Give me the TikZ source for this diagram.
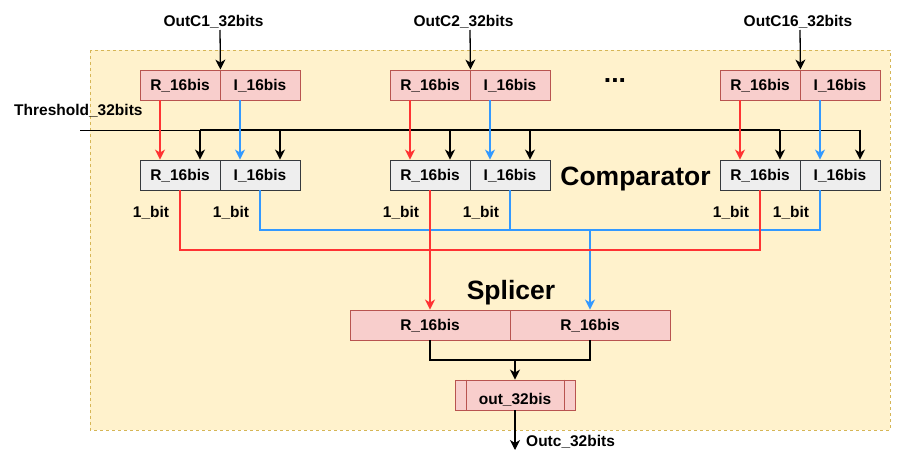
\documentclass[tikz,border=0pt]{standalone}
\usepackage{fontspec}
\setmainfont{Liberation Sans}
\usetikzlibrary{arrows.meta,calc}
\definecolor{bgfill}{HTML}{FFF2CC}
\definecolor{bgline}{HTML}{D6B656}
\definecolor{pinkfill}{HTML}{F8CECC}
\definecolor{pinkline}{HTML}{B85450}
\definecolor{grayfill}{HTML}{EEEEEE}
\definecolor{grayline}{HTML}{36393D}
\definecolor{wred}{HTML}{FF3333}
\definecolor{wblue}{HTML}{3399FF}
\begin{document}
\begin{tikzpicture}[x=1pt,y=-1pt,
  lab/.style={font=\bfseries\fontsize{15.5}{18}\selectfont, inner sep=0pt, text height=11.1pt, text depth=0pt},
  biglab/.style={font=\bfseries\fontsize{26.5}{30}\selectfont, inner sep=0pt, text height=19pt, text depth=0pt},
  pinkbox/.style={lab, draw=pinkline, fill=pinkfill, line width=0.9pt, minimum width=80pt, minimum height=30pt},
  graybox/.style={lab, draw=grayline, fill=grayfill, line width=0.9pt, minimum width=80pt, minimum height=30pt},
  arr/.style={-{Stealth[length=10pt,width=10pt,inset=3pt]}, line width=1.3pt, line join=miter},
  wire/.style={line width=1.3pt, line join=miter},
]
\useasboundingbox (0,0) rectangle (922,461);
% background container
\path[fill=bgfill, draw=bgline, dashed, line width=0.8pt] (90,50) rectangle (890,430);

% top boxes
\node[pinkbox] (t1r) at (180,85) {R\_16bis};
\node[pinkbox] (t1i) at (260,85) {I\_16bis};
\node[pinkbox] (t2r) at (430,85) {R\_16bis};
\node[pinkbox] (t2i) at (510,85) {I\_16bis};
\node[pinkbox] (t3r) at (760,85) {R\_16bis};
\node[pinkbox] (t3i) at (840,85) {I\_16bis};

% comparator boxes
\node[graybox] (c1r) at (180,175) {R\_16bis};
\node[graybox] (c1i) at (260,175) {I\_16bis};
\node[graybox] (c2r) at (430,175) {R\_16bis};
\node[graybox] (c2i) at (510,175) {I\_16bis};
\node[graybox] (c3r) at (760,175) {R\_16bis};
\node[graybox] (c3i) at (840,175) {I\_16bis};

% splicer boxes
\node[pinkbox, minimum width=160pt] (sr) at (430,325) {R\_16bis};
\node[pinkbox, minimum width=160pt] (si) at (590,325) {R\_16bis};

% output box
\node[draw=pinkline, fill=pinkfill, line width=0.9pt, minimum width=120pt, minimum height=30pt, inner sep=0pt] (outbox) at (515,395) {};
\draw[pinkline, line width=0.9pt] ($(outbox.north west)+(12,0)$) -- ($(outbox.south west)+(12,0)$);
\draw[pinkline, line width=0.9pt] ($(outbox.north east)+(-11,0)$) -- ($(outbox.south east)+(-11,0)$);
\node[lab] (outtext) at (515,398.5) {out\_32bis};

% labels
\node[lab] (lo1) at (213.5,20.5) {OutC1\_32bits};
\node[lab] (lo2) at (463.5,20.5) {OutC2\_32bits};
\node[lab] (lo16) at (798,20.5) {OutC16\_32bits};
\node[lab, anchor=west] (lth) at (14,110) {Threshold\_32bits};
\node[biglab, anchor=base] (dots) at (615,82) {...};
\node[biglab] (lcomp) at (635.5,176) {Comparator};
\node[biglab] (lspl) at (511,290) {Splicer};
\node[lab] (b1) at (151,211.5) {1\_bit};
\node[lab] (b2) at (231,211.5) {1\_bit};
\node[lab] (b3) at (401,211.5) {1\_bit};
\node[lab] (b4) at (481,211.5) {1\_bit};
\node[lab] (b5) at (731,211.5) {1\_bit};
\node[lab] (b6) at (791,211.5) {1\_bit};
\node[lab, anchor=west] (lout) at (526,441) {Outc\_32bits};

% input arrows
\coordinate (in1) at (220,30);
\coordinate (in2) at (470,30);
\coordinate (in16) at (800,30);
\draw[arr] (in1) -- (t1r.north east);
\draw[arr] (in2) -- (t2r.north east);
\draw[arr] (in16) -- (t3r.north east);

% threshold bus
\coordinate (thL) at (80,130);
\coordinate (thA) at (200,130);
\coordinate (thB) at (780,130);
\coordinate (thR) at (860,130);
\draw[line width=1pt] (thL) -- (thR);
\draw[line width=2pt] (thA) -- (thB);
\foreach \n in {c1r,c1i,c2r,c2i,c3r,c3i}{
  \draw[arr] ($(\n.north)+(20,-30)$) -- ($(\n.north)+(20,0)$);
}

% real / imag feeds
\draw[arr, wred] ($(t1r.south)+(-20,0)$) -- ($(c1r.north)+(-20,0)$);
\draw[arr, wblue] ($(t1i.south)+(-20,0)$) -- ($(c1i.north)+(-20,0)$);
\draw[arr, wred] ($(t2r.south)+(-20,0)$) -- ($(c2r.north)+(-20,0)$);
\draw[arr, wblue] ($(t2i.south)+(-20,0)$) -- ($(c2i.north)+(-20,0)$);
\draw[arr, wred] ($(t3r.south)+(-20,0)$) -- ($(c3r.north)+(-20,0)$);
\draw[arr, wblue] ($(t3i.south)+(-20,0)$) -- ($(c3i.north)+(-20,0)$);

% comparator outputs to splicer
\coordinate (bj) at (590,230);
\coordinate (rj) at (430,250);
\draw[wire, wblue] (c1i.south) |- (bj);
\draw[wire, wblue] (c2i.south) |- (bj);
\draw[wire, wblue] ($(c3i.south)+(-20,0)$) |- (bj);
\draw[arr, wblue, line width=1.8pt] (bj) -- (si.north);
\draw[wire, wred] (c1r.south) |- (rj);
\draw[wire, wred] (c3r.south) |- (rj);
\draw[arr, wred, line width=1.8pt] (c2r.south) -- (sr.north);

% splicer to output
\coordinate (oj) at (515,360);
\draw[wire] (sr.south) |- (oj);
\draw[wire] (si.south) |- (oj);
\draw[arr] (oj) -- (outbox.north);
\coordinate (oend) at (515,450);
\draw[arr] (outbox.south) -- (oend);
\end{tikzpicture}
\end{document}
